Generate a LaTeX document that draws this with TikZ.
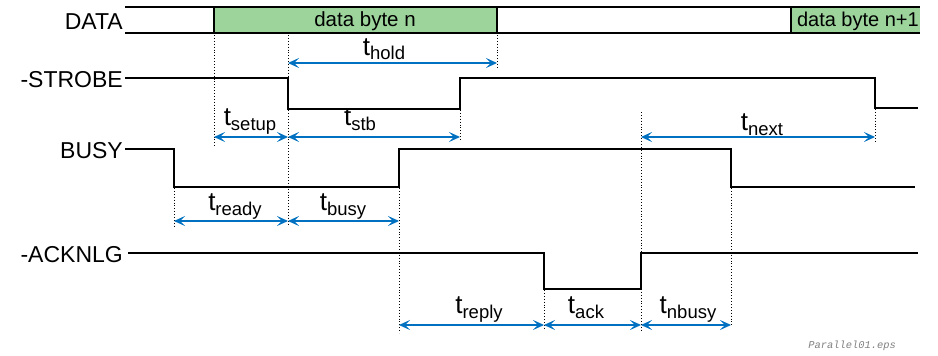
\documentclass[tikz,border=0pt]{standalone}
\usepackage{fontspec}
\setmainfont{Liberation Sans}
\newfontfamily\monofnt{Liberation Mono}
\usetikzlibrary{arrows.meta}
\definecolor{bgreen}{RGB}{156,212,155}
\definecolor{tblue}{RGB}{0,112,192}
\newcommand{\tlab}[1]{{\fontsize{26}{28}\selectfont t}\raisebox{-5pt}{\fontsize{18.5}{20}\selectfont #1}}
\tikzset{
  sig/.style={line width=1.6pt, line join=miter},
  bus/.style={line width=1.1pt},
  guide/.style={dotted, line width=0.9pt},
  tarrow/.style={tblue, line width=1.1pt, {Stealth[length=11pt,width=10pt,inset=5pt]}-{Stealth[length=11pt,width=10pt,inset=5pt]}},
  sname/.style={anchor=base east, inner sep=0pt, font=\fontsize{23}{25}\selectfont},
  tname/.style={inner sep=0pt, anchor=base},
}
\begin{document}
\begin{tikzpicture}[x=1pt,y=-1pt]
\useasboundingbox (0,0) rectangle (938,356);
% DATA bus
\fill[bgreen] (214,7) rectangle (497,33);
\fill[bgreen] (791,7) rectangle (920,33);
\draw[bus] (125,7) -- (920,7);
\draw[bus] (125,33) -- (920,33);
\draw[bus] (214,7) -- (214,33);
\draw[bus] (497,7) -- (497,33);
\draw[bus] (791,7) -- (791,33);
\node[sname] (data) at (123,29) {DATA};
\node[inner sep=0pt, anchor=base, font=\fontsize{20.5}{22}\selectfont] (dbn) at (365,27) {data byte n};
\node[inner sep=0pt, anchor=base east, font=\fontsize{20}{22}\selectfont] (dbn1) at (919,27) {data byte n+1};
% -STROBE
\node[sname] (strobe) at (123,87) {-STROBE};
\coordinate (strobeS) at (125,78);
\draw[sig] (strobeS) -- (288,78) -- (288,109) -- (460,109) -- (460,78) -- (875,78) -- (875,108) -- (918,108);
% BUSY
\node[sname] (busy) at (123,158) {BUSY};
\coordinate (busyS) at (125,149);
\draw[sig] (busyS) -- (174,149) -- (174,187) -- (399,187) -- (399,149) -- (731,149) -- (731,187) -- (915,187);
% -ACKNLG
\node[sname] (ack) at (123,262) {-ACKNLG};
\coordinate (ackS) at (128,253);
\draw[sig] (ackS) -- (544,253) -- (544,289) -- (641,289) -- (641,253) -- (918,253);
% guide coordinates
\coordinate (g214t) at (214,35);  \coordinate (g214b) at (214,146);
\coordinate (g288t) at (288,35);  \coordinate (g288b) at (288,226);
\coordinate (g497t) at (497,35);  \coordinate (g497b) at (497,68);
\coordinate (g460t) at (460,110); \coordinate (g460b) at (460,141);
\coordinate (g174t) at (174,188); \coordinate (g174b) at (174,226);
\coordinate (g399t) at (399,188); \coordinate (g399b) at (399,333);
\coordinate (g641t) at (641,112); \coordinate (g641b) at (641,330);
\coordinate (g875t) at (875,109); \coordinate (g875b) at (875,141);
\coordinate (g544t) at (544,290); \coordinate (g544b) at (544,330);
\coordinate (g731t) at (731,188); \coordinate (g731b) at (731,326);
\foreach \g in {214,288,497,460,174,399,641,875,544,731}
  \draw[guide] (g\g t) -- (g\g b);
% arrow end points
\coordinate (hA) at (288,63);  \coordinate (hB) at (497,63);
\coordinate (sA) at (214,137); \coordinate (sB) at (288,137);
\coordinate (stA) at (288,137); \coordinate (stB) at (460,137);
\coordinate (nA) at (641,137); \coordinate (nB) at (875,137);
\coordinate (rA) at (174,221); \coordinate (rB) at (288,221);
\coordinate (bA) at (288,221); \coordinate (bB) at (399,221);
\coordinate (rpA) at (399,325); \coordinate (rpB) at (544,325);
\coordinate (akA) at (544,325); \coordinate (akB) at (641,325);
\coordinate (nbA) at (641,325); \coordinate (nbB) at (731,325);
\draw[tarrow] (hA) -- (hB);
\draw[tarrow] (sA) -- (sB);
\draw[tarrow] (stA) -- (stB);
\draw[tarrow] (nA) -- (nB);
\draw[tarrow] (rA) -- (rB);
\draw[tarrow] (bA) -- (bB);
\draw[tarrow] (rpA) -- (rpB);
\draw[tarrow] (akA) -- (akB);
\draw[tarrow] (nbA) -- (nbB);
% labels
\node[tname] (lhold) at (384,55) {\tlab{hold}};
\node[tname] (lsetup) at (250,125) {\tlab{setup}};
\node[tname] (lstb) at (360,125) {\tlab{stb}};
\node[tname] (lnext) at (762,130) {\tlab{next}};
\node[tname] (lready) at (235,210) {\tlab{ready}};
\node[tname] (lbusy) at (343,210) {\tlab{busy}};
\node[tname] (lreply) at (479,313) {\tlab{reply}};
\node[tname] (lack) at (586,313) {\tlab{ack}};
\node[tname] (lnbusy) at (688,313) {\tlab{nbusy}};
% file name
\node[anchor=base east, inner sep=0pt, text=gray, font=\monofnt\itshape\fontsize{10.4}{12}\selectfont] (fname) at (896,348) {Parallel01.eps};
\end{tikzpicture}
\end{document}
